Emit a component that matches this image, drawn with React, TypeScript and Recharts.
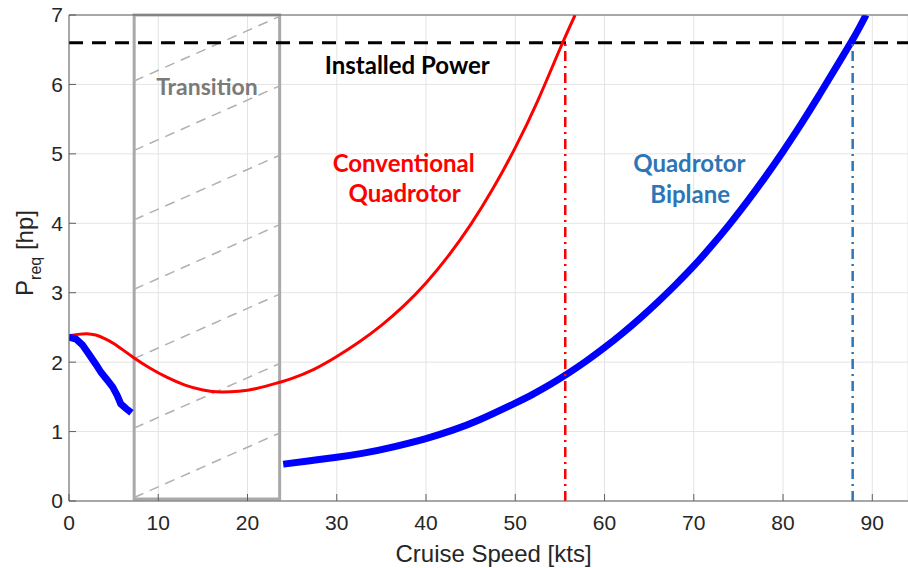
import { LineChart, Line, XAxis, YAxis, CartesianGrid, ReferenceLine, ReferenceArea, ReferenceDot } from 'recharts'

// Conventional quadrotor, full speed range
const convSpeed = [0, 1, 2, 3, 4, 5, 6, 7.3, 9, 11, 13, 15, 17, 19, 21, 23.6, 25, 27.5, 30, 32.5, 35, 37.5, 40, 42.5, 45, 47.5, 50, 52.5, 55, 56.7]
const convPower = [2.38, 2.4, 2.41, 2.39, 2.34, 2.27, 2.18, 2.06, 1.92, 1.78, 1.67, 1.6, 1.57, 1.58, 1.62, 1.71, 1.765, 1.9, 2.08, 2.29, 2.53, 2.81, 3.14, 3.53, 3.98, 4.5, 5.09, 5.76, 6.51, 7.0]

// Quadrotor biplane, hover/low speed branch
const biLowSpeed = [0, 0.8, 1.5, 2.2, 3.0, 3.6, 4.3, 4.9, 5.4, 5.8, 6.4, 7.0]
const biLowPower = [2.36, 2.33, 2.25, 2.12, 1.97, 1.85, 1.74, 1.64, 1.52, 1.4, 1.33, 1.27]

// Quadrotor biplane, wing-borne branch
const biHighSpeed = [24, 27, 30, 33, 36, 40, 43, 46, 50, 52, 54, 56, 58, 60, 62, 64, 66, 68, 70, 72, 74, 76, 78, 80, 82, 84, 86, 88, 89.3]
const biHighPower = [0.53, 0.58, 0.63, 0.69, 0.77, 0.9, 1.02, 1.17, 1.41, 1.54, 1.685, 1.845, 2.02, 2.21, 2.415, 2.635, 2.87, 3.12, 3.385, 3.675, 3.985, 4.315, 4.665, 5.035, 5.425, 5.835, 6.26, 6.69, 7.0]

const installedPower = 6.6
const convMaxSpeed = 55.6
const biMaxSpeed = 87.8

const transitionStart = 7.3
const transitionEnd = 23.6
const hatchLeft = [0.05, 1.05, 2.05, 3.05, 4.05, 5.05, 6.05]
const hatchRight = [0.98, 1.98, 2.98, 3.98, 4.98, 5.98, 6.98]

const xTicks = [0, 10, 20, 30, 40, 50, 60, 70, 80, 90]
const yTicks = [0, 1, 2, 3, 4, 5, 6, 7]

const toPoints = (xs: number[], ys: number[]) => xs.map((x, i) => ({ x, y: ys[i] }))

const convData = toPoints(convSpeed, convPower)
const biLowData = toPoints(biLowSpeed, biLowPower)
const biHighData = toPoints(biHighSpeed, biHighPower)

const AXIS = '#5f5f5f'
const TICK_FONT = { fontSize: 21, fill: '#262626', fontFamily: '"Liberation Sans", Arial, sans-serif' }
const NOTE_FONT = 'Lato, "Open Sans", sans-serif'

const XTitle = (props: any) => {
  const vb = props.viewBox
  return (
    <text x={vb.x + vb.width / 2 + 5} y={vb.y + 61} textAnchor="middle" fontSize={24} fill="#262626" fontFamily='"Liberation Sans", Arial, sans-serif'>
      Cruise Speed [kts]
    </text>
  )
}

const YTitle = (props: any) => {
  const vb = props.viewBox
  const cx = 33
  const cy = vb.y + vb.height / 2 - 5
  return (
    <text x={cx} y={cy} transform={`rotate(-90, ${cx}, ${cy})`} textAnchor="middle" fontSize={24} fill="#262626" fontFamily='"Liberation Sans", Arial, sans-serif'>
      P<tspan fontSize={16} dy={8}>req</tspan><tspan dy={-8}> [hp]</tspan>
    </text>
  )
}

const note = (value: string, fill: string, size = 24) => ({
  value, position: 'center' as const, fill, fontSize: size, fontWeight: 700, fontFamily: NOTE_FONT,
})

export default function App() {
  return (
    <div style={{ position: 'absolute', left: 0, top: 0, background: '#fff' }}>
      <LineChart width={908} height={568} margin={{ top: 0, right: 0, bottom: 0, left: 0 }}>
        <CartesianGrid stroke="#e4e4e4" strokeWidth={1} />
        <XAxis xAxisId="top" orientation="top" type="number" domain={[0, 94]} ticks={xTicks} allowDataOverflow height={15}
          tick={false} tickSize={-7} axisLine={{ stroke: AXIS }} tickLine={{ stroke: AXIS }} />
        <XAxis type="number" dataKey="x" domain={[0, 94]} ticks={xTicks} allowDataOverflow height={67}
          tickSize={-7} tickMargin={21} tick={TICK_FONT} axisLine={{ stroke: AXIS }} tickLine={{ stroke: AXIS }}
          label={<XTitle />} />
        <YAxis type="number" domain={[0, 7]} ticks={yTicks} allowDataOverflow width={69}
          tickSize={-7} tickMargin={13} tick={TICK_FONT} axisLine={{ stroke: AXIS }} tickLine={{ stroke: AXIS }}
          label={<YTitle />} />

        <ReferenceArea x1={transitionStart} x2={transitionEnd} y1={0.03} y2={7} fill="none" stroke="#a9a9a9" strokeWidth={3} />
        {hatchLeft.map((yl, i) => (
          <ReferenceLine key={i} segment={[{ x: transitionStart, y: yl }, { x: transitionEnd, y: hatchRight[i] }]}
            stroke="#b0b0b0" strokeWidth={1.5} strokeDasharray="10 7" />
        ))}

        <ReferenceLine y={installedPower} stroke="#000" strokeWidth={3} strokeDasharray="14 9" />

        <Line data={convData} dataKey="y" type="natural" stroke="#ff0000" strokeWidth={3} dot={false} isAnimationActive={false} />
        <Line data={biLowData} dataKey="y" type="linear" stroke="#0000ff" strokeWidth={7} dot={false} isAnimationActive={false} />
        <Line data={biHighData} dataKey="y" type="natural" stroke="#0000ff" strokeWidth={7} dot={false} isAnimationActive={false} />

        <ReferenceLine segment={[{ x: convMaxSpeed, y: 0 }, { x: convMaxSpeed, y: installedPower }]}
          stroke="#ff0000" strokeWidth={2.5} strokeDasharray="10 5 2 5" />
        <ReferenceLine segment={[{ x: biMaxSpeed, y: 0 }, { x: biMaxSpeed, y: installedPower }]}
          stroke="#2e75b6" strokeWidth={2.5} strokeDasharray="10 5 2 5" />

        <ReferenceDot x={15.45} y={5.97} r={0} fill="none" stroke="none" label={note('Transition', '#7a7a7a', 23)} />
        <ReferenceDot x={37.9} y={6.27} r={0} fill="none" stroke="none" label={note('Installed Power', '#000000')} />
        <ReferenceDot x={37.5} y={4.86} r={0} fill="none" stroke="none" label={note('Conventional', '#ff0000')} />
        <ReferenceDot x={37.6} y={4.43} r={0} fill="none" stroke="none" label={note('Quadrotor', '#ff0000')} />
        <ReferenceDot x={69.5} y={4.86} r={0} fill="none" stroke="none" label={note('Quadrotor', '#2e75b6')} />
        <ReferenceDot x={69.6} y={4.42} r={0} fill="none" stroke="none" label={note('Biplane', '#2e75b6')} />
      </LineChart>
    </div>
  )
}
